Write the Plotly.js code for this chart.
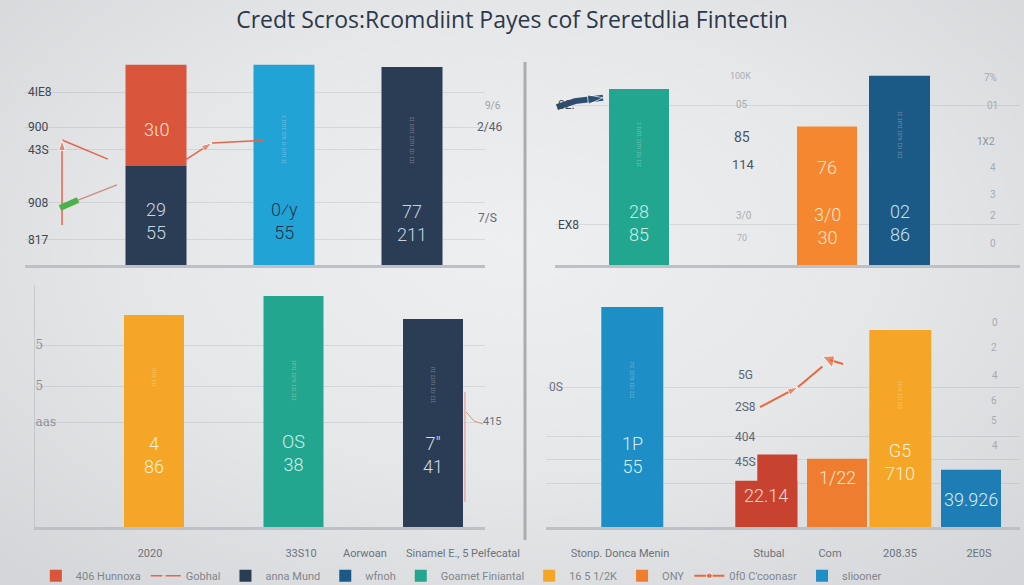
<!DOCTYPE html>
<html><head><meta charset="utf-8">
<script src="https://cdn.plot.ly/plotly-3.0.1.min.js"></script>
<style>
html,body{margin:0;padding:0;width:1024px;height:585px;overflow:hidden;
background: radial-gradient(ellipse 72% 78% at 50% 42%, #eeeff0 0%, #e6e7e9 50%, #d3d5d8 100%);}
#chart{width:1024px;height:585px;}
</style></head><body><div id="chart"></div>
<script>
// ---------------- DATA ----------------
const titleText = "Credt Scros:Rcomdiint Payes cof Sreretdlia Fintectin";

// top-left panel
const tlCats = ["406 Hunnoxa", "Goamet", "anna Mund"];
const tlBase = [45, 91, 90];
const tlTop = [46];                       // red segment stacked on first bar
const tlLabels = [["29", "55"], ["0⁄y", "55"], ["77", "211"]];
const tlTopLabel = [["3ι0"]];
const tlTickVals = [78.6, 62.7, 52.3, 28.2, 11.4];
const tlTickText = ["4IE8", "900", "43S", "908", "817"];
const tlLineX = [-0.734, -0.734, -0.305, null, 0.227, 0.4375, 0.914];
const tlLineY = [18.2, 56.8, 46.4, null, 47.7, 55.5, 56.8];
const tlGreenX = [-0.75, -0.609, -0.305];
const tlGreenY = [25.9, 29.5, 36.4];

// top-right panel
const trCats = ["Sluoza", "Stubal"];
const trA = [80, 63];
const trB = [86];
const trLabelsA = [["28", "85"], ["76", "", "3/0", "30"]];
const trLabelsB = [["02", "86"]];
const trTickVals = [72.7, 18.2];
const trTickText = ["02.", "EX8"];
const trArrowX = [-0.628, -0.532, -0.383];
const trArrowY = [71.8, 74.5, 76];

// bottom-left panel
const blCats = ["2020", "33S10", "Sinamel E."];
const blVals = [96.4, 105, 94.5];
const blLabels = [["4", "86"], ["OS", "38"], ["7\"", "41"]];
const blTickText = ["RM60 710", "2020", "33S10", "Aorwoan", "Sinamel E., 5 Pelfecatal"];
const blYTickVals = [82.7, 64, 47.7];
const blYTickText = ["5", "5", "aas"];
const blLineX = [2.229, 2.229, null, 2.237, 2.294, 2.358];
const blLineY = [11.4, 61.4, null, 52.3, 48.2, 46.8];

// bottom-right panel
const brCats = ["Stonp. Donca Menin", "Stubal", "208.35"];
const brA = [100, 21, 89.5];
const brRedStep = [33];                   // taller right-hand step of the red bar
const brB = [31, 26];
const brLabelsA = [["1P", "55"], ["22.14"], ["G5", "710"]];
const brLabelsB = [["1/22"], ["39.926"]];
const brTickText = ["Stonp. Donca Menin", "Stubal", "Com", "208.35", "2E0S"];
const brYTickVals = [63.6, 41, 30.5, 20];
const brYTickText = ["0S", "", "", ""];
const brLineX = [0.689, 0.973, 1.211, 1.309];
const brLineY = [54.5, 63.6, 75.9, 74.1];

// ---------------- STYLE / LAYOUT ----------------
const W = 1024, H = 585, PXU = 2.2;
const P = {
  tl: {L: 25, R: 485, T: 45, B: 265, c0: 156, u: 128, xa: "x", ya: "y"},
  tr: {L: 555, R: 1020, T: 45, B: 265, c0: 675, u: 188, xa: "x2", ya: "y2"},
  bl: {L: 35, R: 485, T: 285, B: 527, c0: 154, u: 139.5, xa: "x3", ya: "y3"},
  br: {L: 546, R: 1020, T: 285, B: 527, c0: 667.65, u: 134, xa: "x4", ya: "y4"}
};
const xd = p => [p.L / W, p.R / W];
const yd = p => [1 - p.B / H, 1 - p.T / H];
const xr = p => [(p.L - p.c0) / p.u, (p.R - p.c0) / p.u];
const yr = p => [0, (p.B - p.T) / PXU];
const toX = (p, px) => (px - p.c0) / p.u;
const toY = (p, py) => (p.B - py) / PXU;
const idx = a => a.map((_, i) => i);

const C = {red: "#d9553c", navy: "#2b3d55", cyan: "#22a3d6", teal: "#23a68f", orange: "#f4872f",
  dblue: "#1b5a86", yellow: "#f5a627", blue: "#1d8fc6", red2: "#c8432f", orange2: "#ef7d2f", blue2: "#1e7db5"};
const LF = "Roboto, 'Open Sans', sans-serif";
const FS = 18, LH = FS * 1.3;

const annotations = [];
// bar label helper: blocks of lines (split at empty entries), centred on the bar
function labels(p, xs, shiftPx, lines, topPx, colors) {
  lines.forEach((ls, i) => {
    let block = [], start = 0;
    const flush = () => {
      if (block.length) {
        const cy = topPx[i] + (start + (block.length - 1) / 2) * LH;
        annotations.push({text: block.join("<br>"), xref: p.xa, yref: p.ya, x: xs[i] + shiftPx / p.u,
          y: toY(p, cy), showarrow: false, xanchor: "center", yanchor: "middle",
          font: {family: LF, size: FS, weight: 300, color: Array.isArray(colors) ? colors[i] : colors}});
      }
      block = [];
    };
    ls.forEach((t, j) => {
      if (!t) { flush(); start = j + 1; return; }
      if (!block.length) start = j;
      block.push(t);
    });
    flush();
  });
}
// faint vertical texture text inside bars
function vtext(p, x, shiftPx, cyPx, t) {
  annotations.push({text: t, xref: p.xa, yref: p.ya, x: x + shiftPx / p.u, y: toY(p, cyPx), textangle: -90,
    showarrow: false, font: {family: LF, size: 7, color: "rgba(255,255,255,0.32)"}});
}

const bar = {type: "bar", hoverinfo: "skip", cliponaxis: false};
const trShiftA = -36, trShiftB = 36.5, brShiftA = -35.35, brShiftB = 35.35;

const traces = [
  Object.assign({}, bar, {x: idx(tlCats), y: tlBase, xaxis: "x", yaxis: "y", width: 61 / P.tl.u,
    marker: {color: [C.navy, C.cyan, C.navy]}, name: "anna Mund", legendrank: 3}),
  Object.assign({}, bar, {x: [0], y: tlTop, base: [tlBase[0]], xaxis: "x", yaxis: "y", width: 61 / P.tl.u,
    marker: {color: C.red}, name: "406 Hunnoxa", legendrank: 1}),
  {type: "scatter", mode: "lines+markers", x: tlLineX, y: tlLineY, xaxis: "x", yaxis: "y",
    line: {color: "#e2664c", width: 1.5}, connectgaps: false,
    marker: {symbol: "arrow", angleref: "previous", size: [0, 11, 0, 0, 0, 11, 0], color: "#e2664c"},
    name: "Gobhal", legendrank: 2, hoverinfo: "skip"},
  {type: "scatter", mode: "lines", x: tlGreenX, y: tlGreenY, xaxis: "x", yaxis: "y",
    line: {color: "#d08a80", width: 1.2}, showlegend: false, hoverinfo: "skip"},
  {type: "scatter", mode: "lines", x: tlGreenX.slice(0, 2), y: tlGreenY.slice(0, 2), xaxis: "x", yaxis: "y",
    line: {color: "#4cb04a", width: 6}, showlegend: false, hoverinfo: "skip"},

  Object.assign({}, bar, {x: idx(trCats), y: trA, xaxis: "x2", yaxis: "y2",
    width: 60 / P.tr.u, offset: (trShiftA - 30) / P.tr.u,
    marker: {color: [C.teal, C.orange]}, name: "Goamet Finiantal", legendrank: 5}),
  Object.assign({}, bar, {x: [1], y: trB, xaxis: "x2", yaxis: "y2",
    width: 61 / P.tr.u, offset: (trShiftB - 30.5) / P.tr.u,
    marker: {color: C.dblue}, name: "wfnoh", legendrank: 4}),
  {type: "scatter", mode: "lines+markers", x: trArrowX, y: trArrowY, xaxis: "x2", yaxis: "y2",
    line: {color: "#2b4e72", width: 6}, marker: {symbol: "arrow", angleref: "previous", size: [0, 0, 16], color: "#2b4e72"},
    showlegend: false, hoverinfo: "skip"},

  Object.assign({}, bar, {x: idx(blCats), y: blVals, xaxis: "x3", yaxis: "y3", width: 60 / P.bl.u,
    marker: {color: [C.yellow, C.teal, C.navy]}, name: "16 5 1/2K", legendrank: 6}),
  {type: "scatter", mode: "lines", x: blLineX, y: blLineY, xaxis: "x3", yaxis: "y3",
    line: {color: "#e0907f", width: 1}, showlegend: false, hoverinfo: "skip"},

  Object.assign({}, bar, {x: idx(brCats), y: brA, xaxis: "x4", yaxis: "y4",
    width: 62 / P.br.u, offset: (brShiftA - 31) / P.br.u,
    marker: {color: [C.blue, C.red2, C.yellow]}, name: "sliooner", legendrank: 9}),
  Object.assign({}, bar, {x: [1], y: brRedStep, xaxis: "x4", yaxis: "y4",
    width: 40 / P.br.u, offset: (brShiftA + 31 - 40) / P.br.u,
    marker: {color: C.red2}, showlegend: false}),
  Object.assign({}, bar, {x: [1, 2], y: brB, xaxis: "x4", yaxis: "y4",
    width: 60 / P.br.u, offset: (brShiftB - 30) / P.br.u,
    marker: {color: [C.orange2, C.blue2]}, name: "ONY", legendrank: 7}),
  {type: "scatter", mode: "lines+markers", x: brLineX, y: brLineY, xaxis: "x4", yaxis: "y4",
    line: {color: "#e8683c", width: 2},
    marker: {symbol: ["circle", "arrow", "triangle-up", "circle"], angleref: "previous", size: [0, 11, 13, 0], color: "#e8683c"},
    name: "0f0 C'coonasr", legendrank: 8, hoverinfo: "skip"}
];

// faint vertical texture text (upper part of bars)
vtext(P.tl, 1, 0, 140, "ɪɪ ıuıɪ ıɪ ıuɪ ɪuıɪ ɪ");
vtext(P.tl, 2, 0, 140, "ɪɪɪ ıɪɪ ıuɪɪ ɪuıɪ ɪɪ");
vtext(P.tr, 0, trShiftA, 145, "ɪɪɪ ıɪɪ ıuɪɪ ɪuıɪ ɪ");
vtext(P.tr, 1, trShiftB, 135, "ɪɪɪ ıɪɪ ıuɪɪ ɪuıɪ ɪɪ");
vtext(P.bl, 0, 0, 378, "ɪɪɪ ıɪuı");
vtext(P.bl, 1, 0, 380, "ɪɪɪ ıɪɪ ıuɪɪ ɪuıɪ");
vtext(P.bl, 2, 0, 385, "ɪɪɪ ıɪɪ ıuɪɪ ɪu");
vtext(P.br, 0, brShiftA, 380, "ɪɪɪ ıɪɪ ıuɪɪ ɪu");
vtext(P.br, 2, brShiftA, 395, "ɪɪɪ ıɪɪ ıuɪɪ");

// bar value labels (top line centre, px)
labels(P.tl, idx(tlCats), 0, tlLabels, [209, 209, 211], ["#c9d6e6", "#1a3550", "#c7d4e4"]);
labels(P.tl, [0], 0, tlTopLabel, [130], "#fde2d5");
labels(P.tr, idx(trCats), trShiftA, trLabelsA, [211, 168], ["#cdeee6", "#fde6c6"]);
labels(P.tr, [1], trShiftB, trLabelsB, [211], "#c2e2f6");
labels(P.bl, idx(blCats), 0, blLabels, [443, 441, 443], ["#fdf0d6", "#d0f0ea", "#d3deeb"]);
labels(P.br, idx(brCats), brShiftA, brLabelsA, [443, 495, 450], ["#d6eefa", "#fbd9cf", "#fdf1d8"]);
labels(P.br, [1, 2], brShiftB, brLabelsB, [477, 499], ["#fde6cc", "#d6ebf8"]);

const gridC = "rgba(140,146,152,0.22)";
function xax(p, extra) {
  return Object.assign({domain: xd(p), range: xr(p), type: "linear", showgrid: false, zeroline: false,
    showline: true, linecolor: "#bdc1c6", linewidth: 3, showticklabels: false, ticks: "", fixedrange: true}, extra || {});
}
function yax(p, anchor, vals, text, extra) {
  return Object.assign({domain: yd(p), range: yr(p), anchor: anchor, tickmode: "array", tickvals: vals, ticktext: text,
    ticklabelposition: "inside", tickfont: {family: LF, size: 12, color: "#3e4852"}, gridcolor: gridC,
    zeroline: false, showline: false, ticks: "", fixedrange: true}, extra || {});
}
const bottomTicks = (p, pxs, text) => ({showticklabels: true, tickmode: "array", tickvals: pxs.map(v => toX(p, v)),
  ticktext: text, tickfont: {family: LF, size: 11, color: "#6c737b"}, ticklabelstandoff: 14});

// secondary (faint) axis-like labels: [text, px x, px y, color, size]
const sideLabels = [
  ["9/6", 493, 105, "#9aa0a7", 10], ["2/46", 489, 127, "#58616b", 12], ["7/S", 487, 218, "#626a73", 12],
  ["100K", 740, 76, "#a9aeb4", 9], ["05", 742, 104, "#a9aeb4", 10], ["85", 742, 137, "#4c5661", 14],
  ["114", 743, 164, "#4c5661", 13], ["3/0", 744, 215, "#a9aeb4", 10], ["70", 742, 238, "#a9aeb4", 9],
  ["7%", 990, 78, "#a6abb1", 10], ["01", 992, 105, "#a6abb1", 10], ["1X2", 986, 141, "#8f959c", 10],
  ["4", 993, 167, "#a6abb1", 10], ["3", 993, 195, "#a6abb1", 10], ["2", 993, 215, "#a6abb1", 10], ["0", 993, 243, "#a6abb1", 10],
  ["415", 492, 421, "#6b737c", 11],
  ["5G", 745, 375, "#5e666f", 12], ["2S8", 745, 407, "#5e666f", 12], ["404", 745, 437, "#5e666f", 12], ["45S", 745, 462, "#5e666f", 12],
  ["0", 995, 322, "#a6abb1", 10], ["2", 994, 347, "#a6abb1", 10], ["4", 995, 375, "#a6abb1", 10],
  ["6", 994, 400, "#a6abb1", 10], ["5", 994, 420, "#a6abb1", 10], ["4", 995, 445, "#a6abb1", 10]
];
sideLabels.forEach(([t, x, y, c, s]) => annotations.push({text: t, x: x / W, y: 1 - y / H, xref: "paper", yref: "paper",
  showarrow: false, font: {family: LF, size: s, color: c}, xanchor: "center", yanchor: "middle"}));

const layout = {
  width: W, height: H, margin: {l: 0, r: 0, t: 0, b: 0, autoexpand: false},
  paper_bgcolor: "rgba(0,0,0,0)", plot_bgcolor: "rgba(0,0,0,0)",
  barmode: "overlay", hovermode: false,
  title: {text: titleText, x: 0.5, xanchor: "center", y: 1 - 20 / H, yanchor: "middle", yref: "container",
    font: {family: "'Open Sans', sans-serif", size: 23, color: "#2b394a"}, automargin: false},
  xaxis: xax(P.tl, {anchor: "y"}),
  yaxis: yax(P.tl, "x", tlTickVals, tlTickText),
  xaxis2: xax(P.tr, {anchor: "y2"}),
  yaxis2: yax(P.tr, "x2", trTickVals, trTickText),
  xaxis3: xax(P.bl, Object.assign({anchor: "y3"}, bottomTicks(P.bl, [56, 150, 301, 365, 463], blTickText))),
  yaxis3: yax(P.bl, "x3", blYTickVals, blYTickText, {showline: true, linecolor: "rgba(150,155,160,0.35)", linewidth: 1,
    tickfont: {family: "'DejaVu Serif', serif", size: 12, color: "#8a9098"}}),
  xaxis4: xax(P.br, Object.assign({anchor: "y4"}, bottomTicks(P.br, [620, 769, 830, 900, 979], brTickText))),
  yaxis4: yax(P.br, "x4", brYTickVals, brYTickText, {tickfont: {family: LF, size: 12, color: "#6a727b"}}),
  showlegend: true,
  legend: {orientation: "h", x: 0.035, xanchor: "left", y: -0.009, yanchor: "bottom",
    font: {family: LF, size: 11, color: "#80868d"}, bgcolor: "rgba(0,0,0,0)", itemwidth: 30},
  shapes: [{type: "line", xref: "paper", yref: "paper", x0: 525 / W, x1: 525 / W, y0: 1 - 540 / H, y1: 1 - 62 / H,
    line: {color: "#a9adb2", width: 3}}],
  annotations: annotations
};

Plotly.newPlot("chart", traces, layout, {displayModeBar: false, staticPlot: true});
</script></body></html>
